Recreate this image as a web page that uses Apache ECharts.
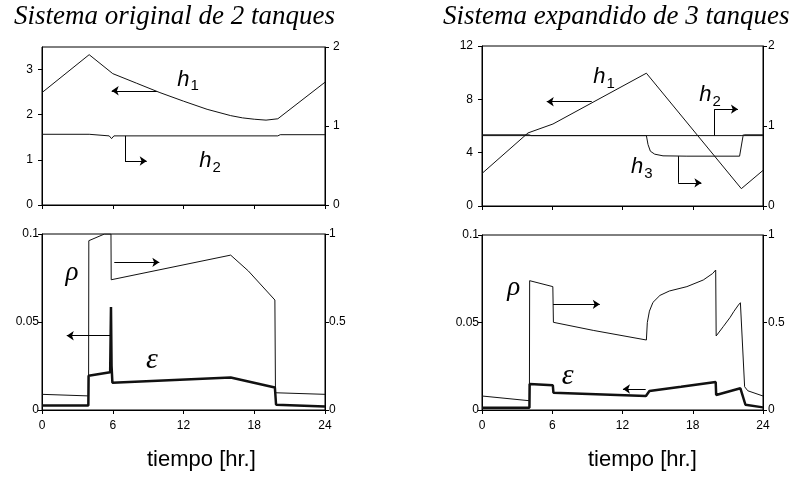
<!DOCTYPE html>
<html><head><meta charset="utf-8">
<script src="https://cdn.jsdelivr.net/npm/echarts@6/dist/echarts.min.js"></script>
<style>html,body{margin:0;padding:0;background:#fff}#c{width:792px;height:480px}</style>
</head><body><div id="c"></div>
<script>
// ---------- data ----------
const xTickLabels = [0, 6, 12, 18, 24];
const titles = ['Sistema original de 2 tanques', 'Sistema expandido de 3 tanques'];
const xName = 'tiempo [hr.]';

// Panel A: original system, levels
const tA_h1 = [0, 4, 6, 8, 10, 12, 14, 16, 17, 18, 19, 20, 24];
const vA_h1 = [2.49, 3.33, 2.91, 2.70, 2.49, 2.30, 2.12, 1.98, 1.93, 1.90, 1.88, 1.91, 2.72];
const tA_h2 = [0, 4, 4.1, 5.7, 5.9, 6.1, 20, 20.2, 24];
const vA_h2 = [0.895, 0.895, 0.875, 0.875, 0.84, 0.875, 0.875, 0.89, 0.89];

// Panel B: original system, p and epsilon
const tB_p = [0, 3.95, 3.97, 5.3, 5.85, 5.87, 16, 17.5, 19.75, 19.8, 24];
const vB_p = [0.089, 0.08, 0.962, 1.0, 1.0, 0.74, 0.88, 0.79, 0.625, 0.098, 0.089];
const tB_e = [0, 3.93, 3.95, 5.78, 5.85, 5.9, 5.97, 16, 19.75, 19.85, 24];
const vB_e = [0.0025, 0.0025, 0.0195, 0.0215, 0.0585, 0.025, 0.0155, 0.0185, 0.0128, 0.003, 0.002];

// Panel C: expanded system, levels
const tC_h1 = [0, 3.93, 6.06, 14.04, 22.15, 24];
const vC_h1 = [2.44, 5.48, 6.15, 9.96, 1.30, 2.67];
const tC_h2 = [0, 4, 4.2, 22.2, 22.4, 24];
const vC_h2 = [0.89, 0.89, 0.88, 0.88, 0.89, 0.89];
const tC_h3 = [0, 14.04, 14.18, 14.38, 14.75, 15.46, 17.5, 22.0, 22.3, 24];
const vC_h3 = [0.88, 0.88, 0.768, 0.685, 0.648, 0.627, 0.623, 0.623, 0.88, 0.88];

// Panel D: expanded system, p and epsilon
const tD_p = [0, 4.05, 4.07, 6.05, 6.1, 9.5, 14.04, 14.12, 14.3, 14.6, 15.2, 16, 17.5, 18.9, 19.7, 19.96, 20.0, 20.6, 21.2, 21.5, 21.9, 22.07, 22.43, 22.7, 24];
const vD_p = [0.08, 0.053, 0.739, 0.705, 0.501, 0.455, 0.40, 0.50, 0.565, 0.615, 0.655, 0.68, 0.705, 0.743, 0.78, 0.80, 0.423, 0.476, 0.53, 0.562, 0.60, 0.613, 0.133, 0.11, 0.08];
const tD_e = [0, 4.05, 4.07, 6.05, 6.1, 14.0, 14.3, 17, 19.96, 20.0, 22.07, 22.1, 22.5, 24];
const vD_e = [0.0013, 0.0013, 0.0149, 0.0141, 0.0099, 0.008, 0.0109, 0.0133, 0.016, 0.0086, 0.0124, 0.012, 0.003, 0.0015];

// ---------- helpers ----------
const zip = (t, v) => t.map((x, i) => [x, v[i]]);
const BLACK = '#000';
const lblFont = {fontFamily: 'Liberation Sans', fontSize: 12, color: BLACK};

const grids = [
  {left: 42, top: 47, width: 283, height: 158},
  {left: 42, top: 234, width: 283, height: 176},
  {left: 482, top: 46, width: 281, height: 160},
  {left: 482, top: 235, width: 281, height: 175}
].map(g => Object.assign({show: true, borderColor: BLACK, borderWidth: 1, backgroundColor: 'transparent'}, g));

const xAxis = grids.map((g, i) => ({
  type: 'value', gridIndex: i, min: 0, max: 24, interval: 6,
  axisLine: {lineStyle: {color: BLACK, width: 1}},
  axisTick: {show: true, length: 4, lineStyle: {color: BLACK}},
  axisLabel: Object.assign({show: i % 2 === 1, margin: 10, customValues: xTickLabels}, lblFont),
  splitLine: {show: false}
}));

function yAx(grid, pos, max, ticks, margin) {
  return {
    type: 'value', gridIndex: grid, position: pos, min: 0, max: max,
    interval: ticks[1] - ticks[0],
    axisLine: {show: true, lineStyle: {color: BLACK, width: 1}},
    axisTick: {show: true, length: 4, lineStyle: {color: BLACK}, customValues: ticks},
    axisLabel: Object.assign({margin: margin, customValues: ticks,
      formatter: v => (ticks.indexOf(v) >= 0 ? String(v) : '')}, lblFont),
    splitLine: {show: false}
  };
}
const yAxis = [
  yAx(0, 'left', 3.5, [0, 1, 2, 3], 9),
  yAx(0, 'right', 2, [0, 1, 2], 8),
  yAx(1, 'left', 0.1, [0, 0.05, 0.1], 3),
  yAx(1, 'right', 1, [0, 0.5, 1], 4),
  yAx(2, 'left', 12, [0, 4, 8, 12], 9),
  yAx(2, 'right', 2, [0, 1, 2], 5),
  yAx(3, 'left', 0.1, [0, 0.05, 0.1], 3),
  yAx(3, 'right', 1, [0, 0.5, 1], 5)
];

const hRich = {
  i: {fontFamily: 'Liberation Sans', fontStyle: 'italic', fontSize: 22, lineHeight: 24, verticalAlign: 'top', color: BLACK},
  s: {fontFamily: 'Liberation Sans', fontSize: 15, lineHeight: 15, padding: [10, 0, 0, 1], verticalAlign: 'top', color: BLACK}
};
function lbl(coord, formatter, rich) {
  return {coord: coord, symbol: 'circle', symbolSize: 1, itemStyle: {color: 'rgba(0,0,0,0)'},
    label: {show: true, position: 'inside', formatter: formatter, rich: rich}};
}
const hLbl = (c, n) => lbl(c, '{i|h}{s|' + n + '}', hRich);
const gRich = {
  g: {fontFamily: 'Liberation Serif', fontStyle: 'italic', fontSize: 30, color: BLACK},
  r: {fontFamily: 'Liberation Serif', fontStyle: 'italic', fontSize: 27, color: BLACK}
};
const gLbl = (c, ch, k) => lbl(c, '{' + k + '|' + ch + '}', gRich);

const arrowLine = {symbol: ['none', 'arrow'], symbolSize: 7, silent: true, animation: false,
  lineStyle: {color: BLACK, width: 1, type: 'solid'}, label: {show: false}, emphasis: {disabled: true}};
const seg = (a, b) => [{coord: a, symbol: 'none'}, {coord: b, symbol: 'none'}];
const arr = (a, b) => [{coord: a, symbol: 'none'}, {coord: b, symbol: 'arrow'}];

function line(name, data, xi, yi, width, extra) {
  return Object.assign({
    type: 'line', name: name, data: data, xAxisIndex: xi, yAxisIndex: yi,
    showSymbol: false, symbol: 'none', smooth: false, silent: true, animation: false,
    lineStyle: {color: '#111', width: width}, z: 3
  }, extra || {});
}

const series = [
  line('h1', zip(tA_h1, vA_h1), 0, 0, 1, {
    markLine: Object.assign({data: [arr([9.73, 2.53], [5.91, 2.53])]}, arrowLine),
    markPoint: {data: [hLbl([12.38, 2.75], 1), hLbl([14.25, 0.95], 2)], animation: false}
  }),
  line('h2', zip(tA_h2, vA_h2), 0, 1, 1, {
    markLine: Object.assign({data: [seg([7.04, 0.875], [7.04, 0.557]), arr([7.04, 0.557], [8.88, 0.557])]}, arrowLine)
  }),
  line('p', zip(tB_p, vB_p), 1, 3, 1, {
    markLine: Object.assign({data: [arr([6.13, 0.839], [9.95, 0.839])]}, arrowLine),
    markPoint: {data: [gLbl([2.54, 0.78], 'ρ', 'r')], animation: false}
  }),
  line('eps', zip(tB_e, vB_e), 1, 2, 2.5, {
    markLine: Object.assign({data: [arr([5.77, 0.0422], [2.1, 0.0422])]}, arrowLine),
    markPoint: {data: [gLbl([9.33, 0.0285], 'ε', 'g')], animation: false}
  }),
  line('h1', zip(tC_h1, vC_h1), 2, 4, 1, {
    markLine: Object.assign({data: [arr([9.37, 7.82], [5.53, 7.82])]}, arrowLine),
    markPoint: {data: [hLbl([10.42, 9.6], 1)], animation: false}
  }),
  line('h2', zip(tC_h2, vC_h2), 2, 5, 1, {
    markLine: Object.assign({data: [seg([19.87, 0.88], [19.87, 1.21]), arr([19.87, 1.21], [21.86, 1.21])]}, arrowLine),
    markPoint: {data: [hLbl([19.47, 1.375], 2), hLbl([13.64, 0.475], 3)], animation: false}
  }),
  line('h3', zip(tC_h3, vC_h3), 2, 5, 1, {
    markLine: Object.assign({data: [seg([16.76, 0.623], [16.76, 0.29]), arr([16.76, 0.29], [18.74, 0.29])]}, arrowLine)
  }),
  line('p', zip(tD_p, vD_p), 3, 7, 1, {
    markLine: Object.assign({data: [arr([6.07, 0.604], [10.06, 0.604])]}, arrowLine),
    markPoint: {data: [gLbl([2.71, 0.695], 'ρ', 'r')], animation: false}
  }),
  line('eps', zip(tD_e, vD_e), 3, 6, 2.5, {
    markLine: Object.assign({data: [arr([13.98, 0.012], [12.04, 0.012])]}, arrowLine),
    markPoint: {data: [gLbl([7.32, 0.0195], 'ε', 'g')], animation: false}
  })
];

const titleStyle = {fontFamily: 'Liberation Serif', fontStyle: 'italic', fontWeight: 'normal', fontSize: 27, color: BLACK};
const option = {
  backgroundColor: '#fff',
  animation: false,
  title: [
    {text: titles[0], left: 14, top: 3, textStyle: titleStyle, padding: 0},
    {text: titles[1], left: 443, top: 3, textStyle: titleStyle, padding: 0}
  ],
  grid: grids,
  xAxis: xAxis,
  yAxis: yAxis,
  series: series,
  graphic: [
    {type: 'text', left: 147, top: 449, style: {text: xName, fontFamily: 'Liberation Sans', fontSize: 22, fill: BLACK}},
    {type: 'text', left: 588, top: 449, style: {text: xName, fontFamily: 'Liberation Sans', fontSize: 22, fill: BLACK}}
  ]
};
const chart = echarts.init(document.getElementById('c'), null, {renderer: 'canvas'});
chart.setOption(option);
</script>
</body></html>
